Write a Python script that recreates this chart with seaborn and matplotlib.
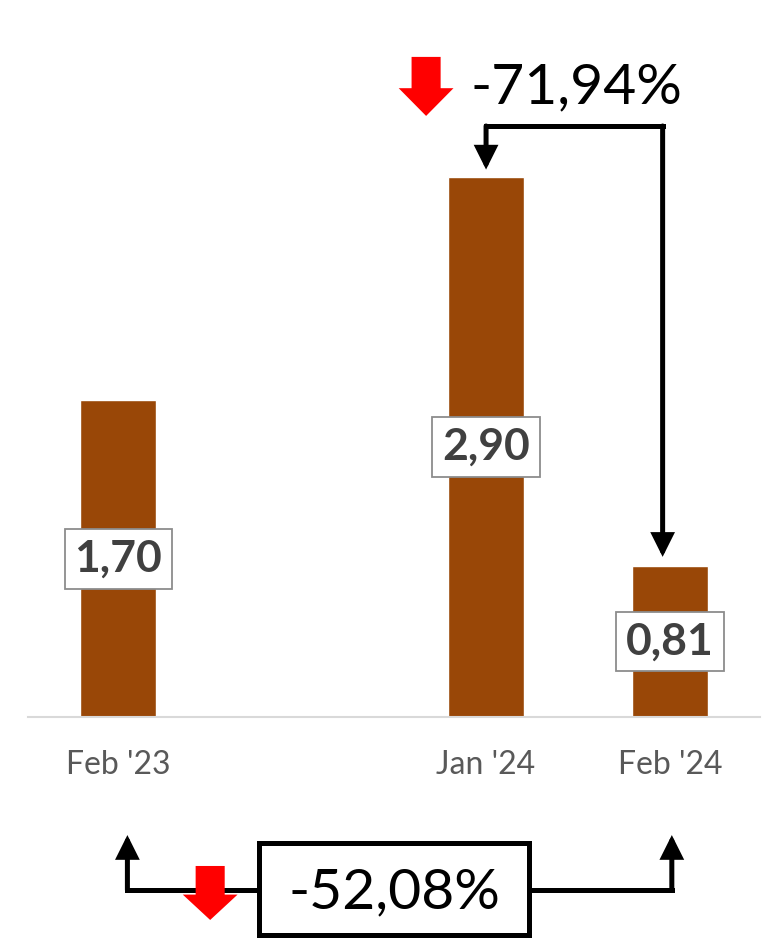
import seaborn as sns
import matplotlib.pyplot as plt
from matplotlib.patches import Polygon, Rectangle
import pandas as pd

months = ["Feb '23", "Jan '24", "Feb '24"]
values = [1.70, 2.90, 0.81]
value_labels = ["1,70", "2,90", "0,81"]
slots = ["Feb '23", " ", "Jan '24", "Feb '24"]
change_short = "-71,94%"
change_long = "-52,08%"

BAR = "#994707"
RED = "#ff0000"

sns.set_style("white")
plt.rcParams["font.family"] = ["Lato", "DejaVu Sans"]

df = pd.DataFrame({"month": months, "value": values})

fig = plt.figure(figsize=(7.8, 9.38), dpi=100)
ax = fig.add_axes([0.036, 0.2356, 0.9385, 0.6948])
sns.barplot(data=df, x="month", y="value", order=slots, color=BAR,
            saturation=1, width=0.41, ax=ax)

ax.set_xlim(-0.49, 3.49)
ax.set_ylim(0, 3.5)
ax.set_xlabel("")
ax.set_ylabel("")
ax.set_yticks([])
for s in ["left", "right", "top"]:
    ax.spines[s].set_visible(False)
ax.spines["bottom"].set_color("#d9d9d9")
ax.spines["bottom"].set_linewidth(1.5)
ax.tick_params(axis="x", length=0, pad=24, labelsize=23, labelcolor="#595959")

# value labels in the middle of each bar
xpos = {m: slots.index(m) for m in months}
for m, v, lab in zip(months, values, value_labels):
    ax.text(xpos[m], v / 2, lab, ha="center", va="center", fontsize=32,
            fontweight="bold", color="#404040", zorder=5,
            bbox=dict(boxstyle="square,pad=0.22", fc="white", ec="#8c8c8c", lw=1.3))


def red_arrow(x, top, tip):
    h = top - tip
    neck = top - h * 0.53
    pts = [(x - 0.079, top), (x + 0.079, top), (x + 0.079, neck), (x + 0.149, neck),
           (x, tip), (x - 0.149, neck), (x - 0.079, neck)]
    ax.add_patch(Polygon(pts, closed=True, fc=RED, ec="none", clip_on=False, zorder=6))


def black_arrow(x, y0, y1):
    ax.annotate("", xy=(x, y1), xytext=(x, y0), annotation_clip=False,
                arrowprops=dict(arrowstyle="-|>,head_length=0.6,head_width=0.3",
                                lw=3.6, color="black", shrinkA=0, shrinkB=0,
                                mutation_scale=20, joinstyle="miter"))


lw = 3.6
# top bracket: Jan '24 -> Feb '24
xa, xb = xpos["Jan '24"], xpos["Feb '24"] - 0.04
ytop = 3.174
ax.plot([xa, xb], [ytop, ytop], color="black", lw=lw, solid_capstyle="projecting",
        clip_on=False)
black_arrow(xa, ytop, values[1] + 0.04)
black_arrow(xb, ytop, values[2] + 0.05)
ax.text((xa + xpos["Feb '24"]) / 2 - 0.01, 3.297, change_short, ha="center",
        va="baseline", fontsize=41, color="black")
red_arrow(1.674, 3.545, 3.228)

# bottom bracket: Feb '23 -> Feb '24
xc, xd = xpos["Feb '23"] + 0.05, xpos["Feb '24"] + 0.01
ybot = -0.929
ax.plot([xc, xd], [ybot, ybot], color="black", lw=lw, solid_capstyle="projecting",
        clip_on=False)
black_arrow(xc, ybot, -0.634)
black_arrow(xd, ybot, -0.634)
red_arrow(0.5, -0.80, -1.09)
mid = (xpos["Feb '23"] + xpos["Feb '24"]) / 2
ax.add_patch(Rectangle((mid - 0.734, -1.172), 1.468, 0.495, fc="white", ec="black",
                       lw=lw, clip_on=False, zorder=7))
ax.text(mid, -1.026, change_long, ha="center", va="baseline", fontsize=41,
        color="black", zorder=8)

fig.savefig("out.png", dpi=100)
